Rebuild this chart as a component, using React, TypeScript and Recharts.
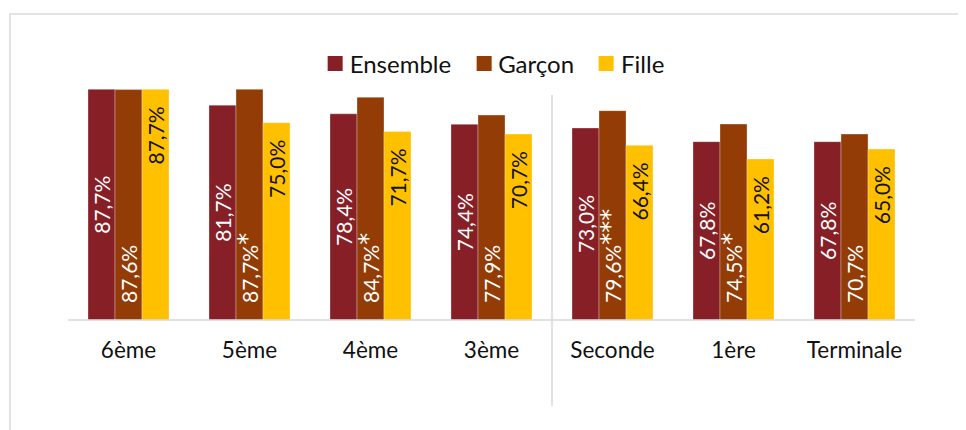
import React from 'react';
import { BarChart, Bar, XAxis, YAxis, LabelList, ReferenceLine } from 'recharts';

const categories = ['6ème', '5ème', '4ème', '3ème', 'Seconde', '1ère', 'Terminale'];
const ensemble = [87.7, 81.7, 78.4, 74.4, 73.0, 67.8, 67.8];
const garcon = [87.6, 87.7, 84.7, 77.9, 79.6, 74.5, 70.7];
const fille = [87.7, 75.0, 71.7, 70.7, 66.4, 61.2, 65.0];
const garconSig = ['', '*', '*', '', '***', '*', ''];
const seriesNames = ['Ensemble', 'Garçon', 'Fille'];
const seriesColors = ['#871F27', '#933C06', '#FFC000'];

const FONT = 'Lato, "Open Sans", sans-serif';

const data = categories.map((name, i) => ({
  name,
  ensemble: ensemble[i],
  garcon: garcon[i],
  fille: fille[i],
}));

const fmt = (v: number) => v.toFixed(1).replace('.', ',') + '%';

// rotated labels: middle of bar, bottom of bar, or top of bar
const makeLabel = (mode: 'middle' | 'base' | 'top', fill: string, values: number[], suffix?: string[]) =>
  (props: any) => {
    const vb = props.viewBox || {};
    const x = Number(props.x ?? vb.x);
    const y = Number(props.y ?? vb.y);
    const w = Number(props.width ?? vb.width);
    const h = Number(props.height ?? vb.height);
    const value = Number(props.value);
    let idx = props.index;
    if (idx === undefined || idx === null) idx = values.indexOf(value);
    const cx = x + w / 2;
    let ay = y + h / 2;
    let anchor = 'middle';
    if (mode === 'base') {
      ay = y + h - 17;
      anchor = 'start';
    } else if (mode === 'top') {
      ay = y + 17;
      anchor = 'end';
    }
    const stars = suffix ? suffix[idx] || '' : '';
    return (
      <text
        x={cx}
        y={ay}
        transform={`rotate(-90 ${cx} ${ay})`}
        textAnchor={anchor}
        dominantBaseline="central"
        fill={fill}
        fontSize={21}
        fontFamily={FONT}
      >
        {fmt(value)}
        {stars && <tspan fontSize={24} fontFamily='"DejaVu Sans", sans-serif' dy={-3}>{stars}</tspan>}
      </text>
    );
  };

const Separator = (p: any) => (
  <line
    x1={p.x1}
    x2={p.x2}
    y1={Math.min(p.y1, p.y2) + 38}
    y2={Math.max(p.y1, p.y2) + 86}
    stroke="#d9d9d9"
    strokeWidth={1.5}
  />
);

export default function App() {
  return (
    <div style={{ position: 'relative', width: 958, height: 422, overflow: 'hidden', fontFamily: FONT }}>
      <div
        style={{
          position: 'absolute',
          left: 1,
          top: 5,
          width: 1000,
          height: 1000,
          border: '2px solid #e3e3e3',
          boxSizing: 'border-box',
        }}
      />
      <BarChart
        width={958}
        height={422}
        data={data}
        margin={{ top: 49, right: 51, left: 60, bottom: 70 }}
        barGap={0}
        barSize={27}
      >
        <XAxis
          dataKey="name"
          height={40}
          tickLine={false}
          tickSize={0}
          tickMargin={22}
          axisLine={{ stroke: '#d9d9d9', strokeWidth: 1.5 }}
          tick={{ fill: '#111', fontSize: 22.5, fontFamily: FONT }}
          interval={0}
        />
        <YAxis hide domain={[0, 100]} />
        <ReferenceLine x="Seconde" position="start" ifOverflow="visible" shape={Separator} />
        <Bar dataKey="ensemble" fill={seriesColors[0]} stroke="rgba(255,255,255,0.3)" isAnimationActive={false}>
          <LabelList dataKey="ensemble" content={makeLabel('middle', '#fff', ensemble)} />
        </Bar>
        <Bar dataKey="garcon" fill={seriesColors[1]} stroke="rgba(255,255,255,0.3)" isAnimationActive={false}>
          <LabelList dataKey="garcon" content={makeLabel('base', '#fff', garcon, garconSig)} />
        </Bar>
        <Bar dataKey="fille" fill={seriesColors[2]} stroke="rgba(255,255,255,0.3)" isAnimationActive={false}>
          <LabelList dataKey="fille" content={makeLabel('top', '#111', fille)} />
        </Bar>
      </BarChart>
      <div
        style={{
          position: 'absolute',
          top: 44,
          left: 488,
          transform: 'translateX(-50%)',
          display: 'flex',
          alignItems: 'center',
          height: 22,
          whiteSpace: 'nowrap',
          fontSize: 24,
          color: '#111',
        }}
      >
        {seriesNames.map((n, i) => (
          <div key={n} style={{ display: 'flex', alignItems: 'center', marginLeft: i === 0 ? 0 : 25 }}>
            <span style={{ width: 15, height: 15, background: seriesColors[i], marginRight: 7 }} />
            <span>{n}</span>
          </div>
        ))}
      </div>
    </div>
  );
}
